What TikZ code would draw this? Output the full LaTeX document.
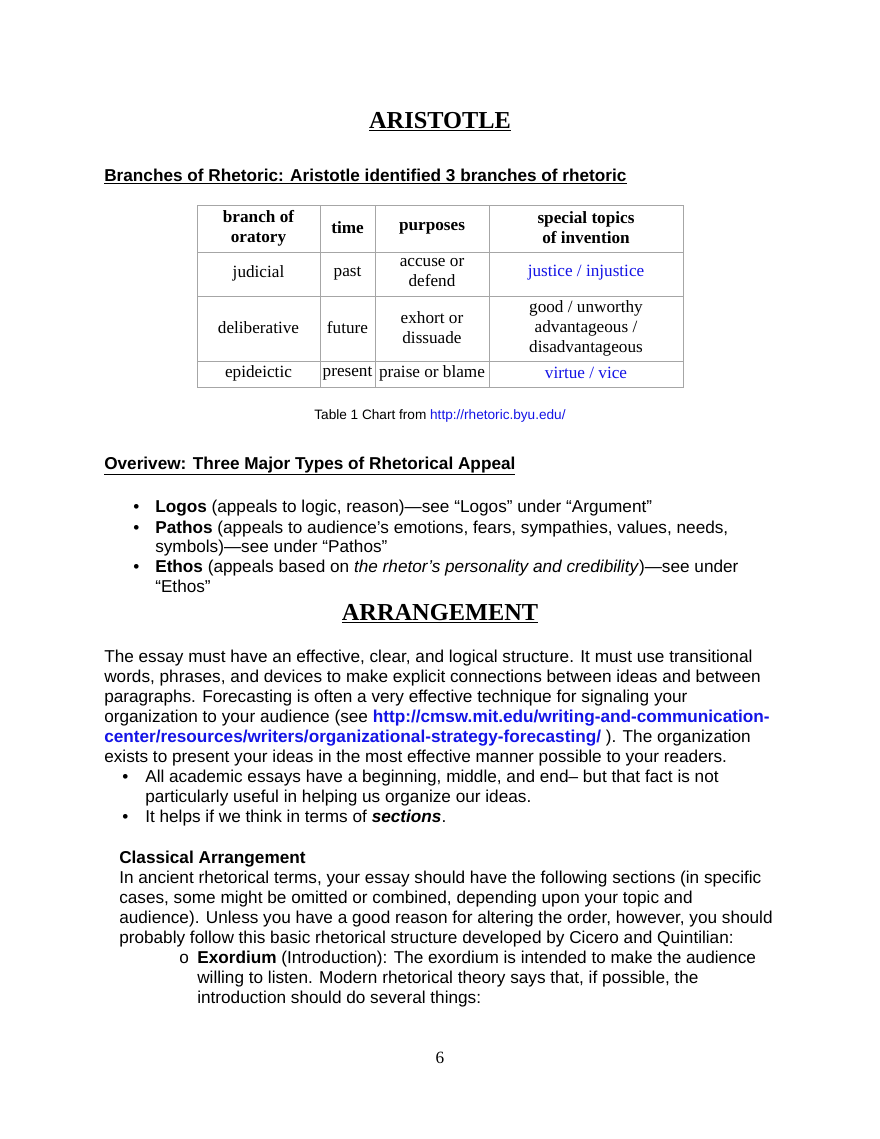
\documentclass[tikz,border=0pt]{standalone}
\usepackage{fontspec}
\setmainfont{Liberation Sans}
\newfontfamily\serif{Liberation Serif}
\definecolor{lnk}{RGB}{20,20,230}
\begin{document}
\begin{tikzpicture}[x=0.698pt,y=-0.698pt,
  t/.style={anchor=base west,inner sep=0pt,font=\fontsize{12}{14}\selectfont},
  c/.style={anchor=center,inner sep=0pt,align=center,font=\serif\fontsize{12}{14}\selectfont},
  ch/.style={c,font=\serif\bfseries\fontsize{12}{14}\selectfont},
  grid/.style={draw=gray!70,line width=0.6pt}]
\useasboundingbox (0,0) rectangle (880,1139);
\fill[white] (0,0) rectangle (880,1139);
% titles
\node[anchor=base,inner sep=0pt,font=\serif\bfseries\fontsize{17}{20}\selectfont] (title) at (440,128) {\underline{ARISTOTLE}};
\node[t,font=\bfseries\fontsize{12}{14}\selectfont] (h1) at (104,181) {\underline{Branches of Rhetoric: Aristotle identified 3 branches of rhetoric}};
% table
\draw[grid] (197,205) rectangle (683,387);
\foreach \xx in {320,375,489} \draw[grid] (\xx,205) -- (\xx,387);
\foreach \yy in {252,296,361} \draw[grid] (197,\yy) -- (683,\yy);
\node[ch] (a1) at (258.5,228) {branch of\\oratory};
\node[ch] (a2) at (347.5,228) {time};
\node[ch] (a3) at (432,228) {purposes};
\node[ch] (a4) at (586,228) {special topics\\of invention};
\node[c] (b1) at (258.5,273) {judicial};
\node[c] (b2) at (347.5,273) {past};
\node[c] (b3) at (432,273) {accuse or\\defend};
\node[c,text=lnk] (b4) at (586,273) {justice / injustice};
\node[c] (d1) at (258.5,328) {deliberative};
\node[c] (d2) at (347.5,328) {future};
\node[c] (d3) at (432,328) {exhort or\\dissuade};
\node[c] (d4) at (586,328) {good / unworthy\\advantageous /\\disadvantageous};
\node[c] (e1) at (258.5,373) {epideictic};
\node[c] (e2) at (347.5,373) {present};
\node[c] (e3) at (432,373) {praise or blame};
\node[c,text=lnk] (e4) at (586,373) {virtue / vice};
\node[anchor=base,inner sep=0pt,font=\fontsize{9.5}{11}\selectfont] (cap) at (440,419) {Table 1 Chart from \textcolor{lnk}{http://rhetoric.byu.edu/}};
\node[t,font=\bfseries\fontsize{12}{14}\selectfont] (h2) at (104,469) {\underline{Overivew: Three Major Types of Rhetorical Appeal}};
\foreach \yy in {512,533,572} \node[t] at (133,\yy) {\textbullet};
\node[t] (l1) at (155,512) {\textbf{Logos} (appeals to logic, reason)—see “Logos” under “Argument”};
\node[t] (l2) at (155,533) {\textbf{Pathos} (appeals to audience’s emotions, fears, sympathies, values, needs,};
\node[t] (l3) at (155,552) {symbols)—see under “Pathos”};
\node[t] (l4) at (155,572) {\textbf{Ethos} (appeals based on \textit{the rhetor’s personality and credibility})—see under};
\node[t] (l5) at (155,592) {“Ethos”};
\node[anchor=base,inner sep=0pt,font=\serif\bfseries\fontsize{17}{20}\selectfont] (arr) at (440,620) {\underline{ARRANGEMENT}};
\node[t] (p1) at (104,662) {The essay must have an effective, clear, and logical structure. It must use transitional};
\node[t] (p2) at (104,682) {words, phrases, and devices to make explicit connections between ideas and between};
\node[t] (p3) at (104,702) {paragraphs. Forecasting is often a very effective technique for signaling your};
\node[t] (p4) at (104,722) {organization to your audience (see \textcolor{lnk}{\textbf{http://cmsw.mit.edu/writing-and-communication-}}};
\node[t] (p5) at (104,742) {\textcolor{lnk}{\textbf{center/resources/writers/organizational-strategy-forecasting/}} ). The organization};
\node[t] (p6) at (104,762) {exists to present your ideas in the most effective manner possible to your readers.};
\foreach \yy in {782,822} \node[t] at (122,\yy) {\textbullet};
\node[t] (q1) at (145,782) {All academic essays have a beginning, middle, and end-- but that fact is not};
\node[t] (q2) at (145,802) {particularly useful in helping us organize our ideas.};
\node[t] (q3) at (145,822) {It helps if we think in terms of \textbf{\textit{sections}}.};
\node[t] (ca) at (119,863) {\textbf{Classical Arrangement}};
\node[t] (r1) at (119,883) {In ancient rhetorical terms, your essay should have the following sections (in specific};
\node[t] (r2) at (119,903) {cases, some might be omitted or combined, depending upon your topic and};
\node[t] (r3) at (119,923) {audience). Unless you have a good reason for altering the order, however, you should};
\node[t] (r4) at (119,943) {probably follow this basic rhetorical structure developed by Cicero and Quintilian:};
\node[t] (o) at (179,963) {o};
\node[t] (s1) at (197,963) {\textbf{Exordium} (Introduction): The exordium is intended to make the audience};
\node[t] (s2) at (197,983) {willing to listen. Modern rhetorical theory says that, if possible, the};
\node[t] (s3) at (197,1003) {introduction should do several things:};
\node[anchor=base,inner sep=0pt,font=\serif\fontsize{12}{14}\selectfont] (pg) at (440,1063) {6};
\end{tikzpicture}
\end{document}
